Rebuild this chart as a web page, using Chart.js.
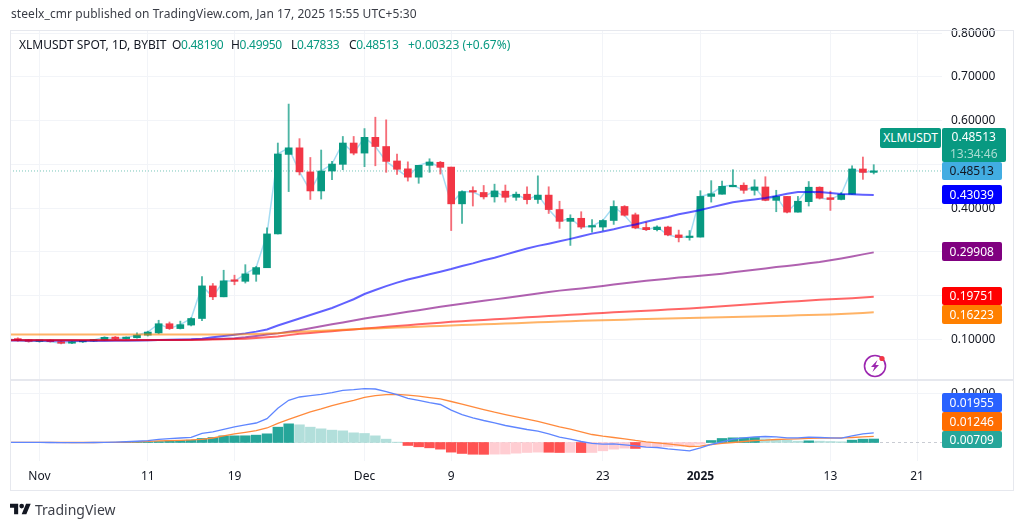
<!DOCTYPE html>
<html>
<head>
<meta charset="utf-8">
<title>XLMUSDT</title>
<script src="https://cdn.jsdelivr.net/npm/chart.js@4"></script>
<style>
    html, body { margin: 0; padding: 0; background: #fff; }
    body { width: 1024px; height: 528px; position: relative; overflow: hidden; font-family: "Noto Sans", sans-serif; color: #131722; }
    #chart { position: absolute; left: 0; top: 0; }
    .frame { position: absolute; left: 10px; top: 30px; width: 1002px; height: 459px; border: 1px solid #e6e8ee; pointer-events: none; }
    .txt { position: absolute; font-size: 12px; line-height: 16px; white-space: nowrap; }
    .num { letter-spacing: -.3px; }
    .up { color: #089981; }
    .tag { position: absolute; left: 942px; width: 59.5px; font-size: 12px; line-height: 19px; text-align: center; color: #fff; border-radius: 2px; }
    .brand { position: absolute; left: 35px; top: 500px; font-size: 14px; line-height: 20px; color: #3c3f48; }
</style>
</head>
<body>
<canvas id="chart" width="1024" height="528"></canvas>
<div class="frame"></div>

<div class="txt" style="left:11px;top:6px;color:#3a3d46;letter-spacing:.07px">steelx_cmr published on TradingView.com, Jan 17, 2025 15:55 UTC+5:30</div>
<div class="txt" style="left:19px;top:37px">XLMUSDT SPOT, 1D, BYBIT</div>
<div class="txt num" style="left:172px;top:37px">O<span class="up">0.48190</span></div>
<div class="txt num" style="left:231px;top:37px">H<span class="up">0.49950</span></div>
<div class="txt num" style="left:291px;top:37px">L<span class="up">0.47833</span></div>
<div class="txt num" style="left:349px;top:37px">C<span class="up">0.48513</span></div>
<div class="txt up" style="left:408px;top:37px">+0.00323 (+0.67%)</div>

<!-- ценовые метки справа -->
<div class="tag" style="left:880px;width:61px;top:128px;height:20px;background:#089981">XLMUSDT</div>
<div class="tag" style="width:63.5px;top:128px;height:34px;background:#089981;line-height:17px">0.48513<br><span style="color:#a9dcd2">13:34:46</span></div>
<div class="tag" style="top:162px;height:18px;line-height:18px;background:#42ade2;color:#131722">0.48513</div>
<div class="tag" style="top:185px;background:#0000ff">0.43039</div>
<div class="tag" style="top:242px;background:#800080">0.29908</div>
<div class="tag" style="top:287px;height:18px;line-height:18px;background:#ff0000">0.19751</div>
<div class="tag" style="top:305px;background:#ff8000">0.16223</div>
<div class="tag" style="top:393px;background:#2962ff">0.01955</div>
<div class="tag" style="top:412px;background:#ff6d00">0.01246</div>
<div class="tag" style="top:431px;height:17px;line-height:17px;background:#26a69a">0.00709</div>

<!-- значок молнии -->
<svg style="position:absolute;left:862px;top:353px" width="26" height="26" viewBox="0 0 26 26">
    <circle cx="13" cy="13" r="10.5" fill="none" stroke="#9c27b0" stroke-width="1.6"/>
    <path d="M15.5 7 L9 14 H12.5 L10.5 19 L17 12 H13.5 Z" fill="#9c27b0"/>
    <circle cx="20" cy="5.5" r="2.6" fill="#f23645"/>
</svg>

<!-- логотип -->
<svg style="position:absolute;left:10px;top:503px" width="21" height="12" viewBox="0 4 36 18">
    <path d="M14 22H7V11H0V4h14v18zM28 22h-8l7.5-18h8L28 22z" fill="#131722"/>
    <circle cx="20" cy="8" r="4" fill="#131722"/>
</svg>
<div class="brand">TradingView</div>

<script>
// Свечи: первый индекс = 29 окт (день -3 от 1 ноября)
const firstDay = -3;
const opens = [.1035,
    .102,.098,.0955,.0965,.095,.0915,.0945,.0965,.099,.105,
    .102,.104,.110,.115,.136,.125,.133,.148,.2225,.1975,
    .235,.233,.249,.264,.3413,.523,.538,.483,.4395,.485,
    .5003,.549,.526,.562,.541,.508,.490,.471,.498,.505,
    .494,.410,.439,.436,.426,.439,.425,.432,.420,.430,
    .397,.370,.377,.357,.357,.372,.404,.385,.356,.351,
    .357,.339,.333,.334,.427,.432,.449,.4525,.441,.4486,
    .418,.427,.391,.415,.448,.424,.420,.432,.4897,.4819
];
const highs = [.105,
    .104,.100,.098,.099,.097,.096,.098,.100,.106,.107,
    .106,.115,.119,.144,.140,.142,.150,.244,.228,.2583,
    .247,.271,.267,.355,.549,.638,.559,.516,.533,.507,
    .564,.564,.582,.608,.602,.524,.506,.498,.513,.507,
    .494,.440,.449,.452,.455,.453,.437,.449,.474,.449,
    .416,.385,.392,.374,.374,.417,.406,.389,.368,.360,
    .359,.350,.349,.440,.463,.462,.488,.458,.465,.472,
    .441,.427,.427,.461,.449,.439,.436,.497,.517,.4995
];
const lows = [.101,
    .096,.094,.094,.094,.090,.0905,.093,.0955,.098,.100,
    .101,.103,.108,.113,.123,.124,.131,.143,.191,.1975,
    .225,.229,.233,.264,.341,.438,.476,.420,.421,.465,
    .488,.522,.495,.497,.482,.477,.462,.457,.482,.478,
    .349,.365,.405,.421,.414,.414,.418,.410,.411,.388,
    .354,.315,.353,.345,.349,.363,.382,.353,.349,.348,
    .337,.323,.327,.334,.414,.432,.449,.434,.430,.417,
    .392,.389,.391,.405,.421,.395,.419,.432,.466,.47833
];
const closes = [.102,
    .098,.0955,.0965,.095,.0915,.0945,.0965,.099,.105,.102,
    .104,.110,.117,.136,.125,.134,.148,.2225,.1975,.234,
    .233,.250,.2644,.3413,.524,.538,.483,.4395,.485,.501,
    .549,.526,.562,.541,.507,.489,.471,.498,.5056,.4935,
    .410,.438,.437,.426,.4395,.425,.432,.4197,.430,.397,
    .370,.377,.357,.359,.372,.404,.384,.355,.351,.357,
    .339,.333,.335,.427,.433,.450,.4524,.441,.4486,.418,
    .427,.391,.416,.448,.423,.420,.432,.4897,.4819,.48513
];

// Скользящие средние
const maBlue = [.0985,
    .0985,.0985,.098,.098,.0975,.0975,.097,.097,.097,.0975,
    .098,.098,.0985,.099,.0995,.100,.1005,.102,.105,.108,
    .111,.114,.118,.123,.132,.140,.148,.156,.164,.172,
    .182,.192,.204,.213,.222,.230,.237,.243,.249,.255,
    .261,.268,.274,.281,.287,.294,.301,.308,.314,.319,
    .3245,.330,.336,.342,.347,.352,.358,.363,.369,.375,
    .380,.386,.391,.396,.402,.408,.4136,.417,.420,.4235,
    .428,.433,.437,.437,.437,.435,.4326,.432,.431,.43039
];
const maPurple = [.098,
    .098,.098,.098,.098,.098,.098,.098,.098,.098,.098,
    .098,.0985,.0985,.099,.099,.099,.0995,.100,.101,.102,
    .103,.105,.108,.1115,.114,.1175,.1213,.1258,.1303,.1348,
    .139,.1435,.148,.1518,.1556,.1594,.1632,.167,.1708,.1746,
    .1784,.1817,.185,.1884,.1917,.195,.1984,.2017,.205,.2084,
    .2117,.214,.2165,.2195,.2225,.2255,.2285,.2315,.234,.2365,
    .239,.2415,.2435,.2455,.248,.2505,.2535,.2565,.2595,.2625,
    .2655,.268,.271,.274,.277,.281,.285,.2895,.2945,.29908
];
const maRed = [.099,
    .099,.099,.099,.099,.099,.099,.099,.099,.099,.099,
    .099,.099,.099,.099,.099,.099,.099,.0995,.100,.1005,
    .101,.102,.1035,.105,.107,.110,.113,.115,.117,.119,
    .121,.123,.125,.127,.129,.131,.1328,.1347,.1366,.1385,
    .1404,.1418,.1433,.1448,.1462,.1477,.1491,.1506,.1521,.1535,
    .155,.1565,.1579,.1594,.1607,.162,.1632,.1645,.1658,.167,
    .1683,.1696,.1708,.1725,.1742,.1759,.1776,.1793,.181,.1827,
    .1844,.186,.1876,.1892,.1906,.1919,.193,.1945,.196,.19751
];
const maOrange = [.1115,
    .1115,.1115,.1115,.1115,.1115,.1115,.1115,.1115,.1115,.1115,
    .1115,.1115,.1115,.1115,.1115,.1115,.1115,.1115,.1115,.1115,
    .1115,.1118,.1125,.1135,.1145,.116,.1175,.1187,.1198,.121,
    .1221,.1232,.1244,.1253,.1263,.1272,.1282,.1291,.1301,.131,
    .132,.1329,.1338,.1347,.1356,.1365,.1374,.1383,.1392,.1401,
    .141,.1419,.1428,.1436,.1442,.1448,.1454,.146,.1466,.1472,
    .1478,.1484,.149,.1496,.1502,.1508,.1514,.1521,.1527,.1533,
    .1539,.1545,.1552,.1559,.1566,.1574,.1582,.1595,.1608,.16223
];

// MACD
const macdLine = [.0002,
    .0002,.0002,.0001,.0000,-.0001,-.0002,-.0001,.0000,.0003,.0008,.0015,.0025,
    .0038,.0065,.0079,.0092,.0106,.0188,.0215,.0269,.0317,.0358,.0398,.0487,.0698,.0861,
    .0929,.0956,.0983,.1017,.1065,.1079,.1099,.1092,.1038,.0977,.0902,.0861,.0813,
    .0776,.0660,.0571,.0503,.0449,.0401,.0347,.0306,.0265,.0231,.0177,.0109,
    .0068,.0020,-.0020,-.0034,-.0027,-.0048,-.0068,-.0095,-.0102,-.0129,-.0150,
    -.0170,-.0109,-.0041,.0014,.0068,.0095,.0116,.0122,.0116,
    .0095,.0095,.0109,.0102,.0095,.0088,.0136,.0177,.01955
];
const signalLine = [.0002,
    .0002,.0002,.0002,.0001,.0001,.0000,.0000,.0000,.0001,.0003,.0008,.0015,
    .0024,.0031,.0038,.0045,.0052,.0065,.0092,.0133,.0174,.0208,.0242,.0296,
    .0392,.0473,.0548,.0623,.0684,.0752,.0807,.0861,.0922,.0956,.0977,.0983,
    .0966,.0946,.0918,.0891,.0837,.0782,.0728,.0673,.0619,.0571,.0524,.0476,.0429,
    .0374,.0320,.0272,.0218,.0163,.0129,.0102,.0075,.0041,.0014,-.0007,-.0027,-.0054,
    -.0082,-.0075,-.0041,-.0020,.0000,.0020,.0041,.0048,.0061,.0068,.0075,.0082,
    .0088,.0088,.0095,.0102,.0116,.01246
];
const histogram = [.0001,
    .0001,.0001,-.0002,-.0005,-.0006,-.0006,-.0004,-.0002,.0002,.0004,.0006,.0010,
    .0014,.0020,.0034,.0041,.0048,.0082,.0102,.0135,.0136,.0137,.0150,.0177,
    .0313,.0381,.0361,.0313,.0279,.0252,.0238,.0197,.0184,.0136,.0068,.0007,
    -.0061,-.0088,-.0109,-.0136,-.0197,-.0224,-.0240,-.0242,-.0238,-.0236,-.0218,-.0204,-.0197,
    -.0200,-.0205,-.0203,-.0206,-.0204,-.0170,-.0136,-.0116,-.0122,-.0095,-.0088,-.0084,-.0075,
    -.0060,-.0035,.0040,.0082,.0095,.0096,.0102,.0075,.0061,.0048,.0027,.0034,
    .0027,.0020,.0014,.0048,.0068,.00709
];

// Подписи осей
const tickDays = [0, 10, 18, 30, 38, 52, 61, 73, 81];
const tickLabels = ['Nov', '11', '19', 'Dec', '9', '23', '2025', '13', '21'];
const lastPrice = 0.48513;

const GREEN = '#089981', RED = '#f23645';
const FONT = '"Noto Sans", sans-serif';

const points = (values) => values.map((v, i) => ({ x: i + firstDay, y: v }));
const candleColor = (alpha) => closes.map((c, i) => {
    const up = c >= opens[i];
    return alpha ? (up ? `rgba(8,153,129,${alpha})` : `rgba(242,54,69,${alpha})`) : (up ? GREEN : RED);
});
const histColor = histogram.map((h, i) => {
    const prev = i ? histogram[i - 1] : 0;
    if (h >= 0) return h >= prev ? '#26a69a' : '#b2dfdb';
    return h < prev ? '#ff5252' : '#ffcdd2';
});

const lineSet = (values, color, width, axis, order) => ({
    type: 'line', data: points(values), borderColor: color, borderWidth: width,
    pointRadius: 0, tension: 0, yAxisID: axis, order: order
});

const xMin = -2.72, xMax = 83.3;

// Линия-разделитель панелей
const paneDivider = {
    id: 'paneDivider',
    afterDraw(chart) {
        const { ctx, scales } = chart;
        ctx.save();
        ctx.strokeStyle = '#e6e8ee';
        ctx.lineWidth = 2;
        ctx.beginPath();
        ctx.moveTo(chart.chartArea.left, scales.macdY.top);
        ctx.lineTo(scales.macdY.right, scales.macdY.top);
        ctx.stroke();
        ctx.restore();
    }
};

new Chart(document.getElementById('chart'), {
    type: 'bar',
    plugins: [paneDivider],
    data: {
        datasets: [
            {
                type: 'line', data: [{ x: xMin, y: lastPrice }, { x: xMax, y: lastPrice }],
                borderColor: 'rgba(8,153,129,.55)', borderWidth: 1, borderDash: [1, 2],
                pointRadius: 0, yAxisID: 'y', order: 8
            },
            lineSet(closes, '#a6dcf3', 1.5, 'y', 7),
            {
                data: points(lows.map((l, i) => [l, highs[i]])), backgroundColor: candleColor(0.72),
                barThickness: 1.2, grouped: false, yAxisID: 'y', order: 6
            },
            {
                data: points(opens.map((o, i) => [o, closes[i]])), backgroundColor: candleColor(),
                barThickness: 7, minBarLength: 1.5, grouped: false, yAxisID: 'y', order: 5
            },
            lineSet(maBlue, 'rgba(0,0,255,.62)', 2, 'y', 4),
            lineSet(maPurple, 'rgba(128,0,128,.62)', 2, 'y', 3),
            lineSet(maRed, 'rgba(255,0,0,.6)', 2, 'y', 2),
            lineSet(maOrange, 'rgba(255,128,0,.6)', 2, 'y', 1),

            {
                type: 'line', data: [{ x: xMin, y: 0 }, { x: xMax, y: 0 }],
                borderColor: '#c9ccd3', borderWidth: 1, borderDash: [3, 3],
                pointRadius: 0, yAxisID: 'macdY', order: 12
            },
            {
                data: points(histogram), backgroundColor: histColor,
                barThickness: 9.8, grouped: false, yAxisID: 'macdY', order: 11
            },
            lineSet(signalLine, '#ff8a3c', 1.3, 'macdY', 10),
            lineSet(macdLine, '#5f86ff', 1.3, 'macdY', 9)
        ]
    },
    options: {
        responsive: false,
        animation: false,
        layout: { padding: { left: 10, top: 31, right: 11, bottom: 38 } },
        plugins: { legend: { display: false }, tooltip: { enabled: false } },
        scales: {
            x: {
                type: 'linear', min: xMin, max: xMax, offset: false,
                afterBuildTicks: (scale) => { scale.ticks = tickDays.map(d => ({ value: d })); },
                afterFit: (scale) => { scale.height = 29; },
                grid: { offset: false, color: '#f2f4f8', drawTicks: false },
                border: { display: false },
                ticks: {
                    autoSkip: false, maxRotation: 0, padding: 8, color: '#131722',
                    callback: (v) => tickLabels[tickDays.indexOf(v)],
                    font: (c) => ({
                        family: FONT, size: 12,
                        weight: c.tick && c.tick.value === 61 ? '700' : '400'
                    })
                }
            },
            y: {
                type: 'linear', position: 'right', stack: 'panes', stackWeight: 349,
                min: 0.00745, max: 0.805,
                afterFit: (scale) => { scale.width = 71; },
                grid: { color: '#f2f4f8', drawTicks: false },
                border: { display: false },
                ticks: {
                    stepSize: 0.1, includeBounds: false, padding: 9, color: '#131722',
                    font: { family: FONT, size: 12 },
                    callback: (v) => v < 0.05 ? null : v.toFixed(5)
                }
            },
            macdY: {
                type: 'linear', position: 'right', stack: 'panes', stackWeight: 81,
                min: -0.0378, max: 0.1276,
                afterFit: (scale) => { scale.width = 71; },
                grid: { color: '#f2f4f8', drawTicks: false },
                border: { display: false },
                ticks: {
                    stepSize: 0.1, includeBounds: false, padding: 9, color: '#131722',
                    font: { family: FONT, size: 12 },
                    callback: (v) => v === 0.1 ? v.toFixed(5) : null
                }
            }
        }
    }
});
</script>
</body>
</html>
